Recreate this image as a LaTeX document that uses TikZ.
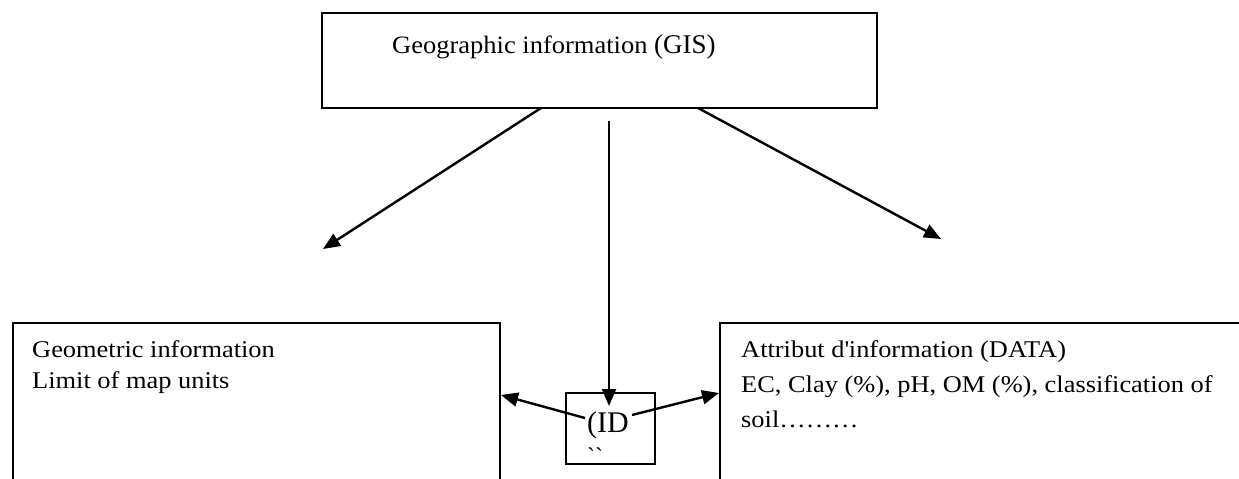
\documentclass[tikz,border=0pt]{standalone}
\usepackage{fontspec}
\setmainfont{Liberation Serif}[FakeStretch=1.1]
\newfontfamily\plainserif{Liberation Serif}
\newfontfamily\topserif{Liberation Serif}[FakeStretch=1.06]
\usetikzlibrary{arrows.meta}
\tikzset{
  box/.style={draw=black, line width=2pt, fill=none, inner sep=0pt, anchor=north west},
  idbox/.style={draw=black, line width=1.6pt, inner sep=0pt, anchor=north west, minimum width=89pt, minimum height=71pt},
  txt/.style={anchor=base west, inner sep=0pt, font=\fontsize{24}{28}\selectfont},
  conn/.style={line width=2.4pt, -{Triangle[length=17pt,width=14pt]}},
}
\begin{document}
\begin{tikzpicture}[x=1pt,y=-1pt]
\useasboundingbox (0,0) rectangle (1239,479);
\clip (0,0) rectangle (1239,479);
% boxes
\node[box, minimum width=555pt, minimum height=95pt] (gis) at (321,12) {};
\node[box, minimum width=487pt, minimum height=180pt] (geo) at (12,322) {};
\node[box, minimum width=560pt, minimum height=180pt] (attr) at (719,322) {};
\node[idbox] (id) at (565,392) {};
% texts
\node[anchor=base west, inner sep=0pt, font=\topserif\fontsize{25}{28}\selectfont] (gist) at (392,53) {Geographic information {\plainserif\fontsize{27}{30}\selectfont (GIS)}};
\node[txt] (geot1) at (32,357) {Geometric information};
\node[txt] (geot2) at (32,388) {Limit of map units};
\node[txt] (attrt1) at (741,357) {Attribut d\textquotesingle information (DATA)};
\node[txt] (attrt2) at (741,392) {EC, Clay (\%), pH, OM (\%), classification of};
\node[txt] (attrt3) at (741,427) {soil………};
\node[anchor=base west, inner sep=0pt, font=\plainserif\fontsize{30}{32}\selectfont] (idt) at (587,432) {(ID};
\node[anchor=base west, inner sep=0pt, font=\plainserif\fontsize{24}{26}\selectfont] (idq) at (587,464) {\symbol{96}\symbol{96}};
% connector end points
\coordinate (s1) at (541,108);
\coordinate (e1) at (323,249);
\coordinate (s2) at (609,121);
\coordinate (e2) at (609,406);
\coordinate (s3) at (698,108);
\coordinate (e3) at (941,239);
\coordinate (s4) at (585,418);
\coordinate (e4) at (geo.east |- 0,395);
\coordinate (s5) at (632,415);
\coordinate (e5) at (attr.west |- 0,393);
% connectors
\draw[conn] (s1) -- (e1);
\draw[conn] (s2) -- (e2);
\draw[conn] (s3) -- (e3);
\draw[conn] (s4) -- (e4);
\draw[conn] (s5) -- (e5);
\end{tikzpicture}
\end{document}
